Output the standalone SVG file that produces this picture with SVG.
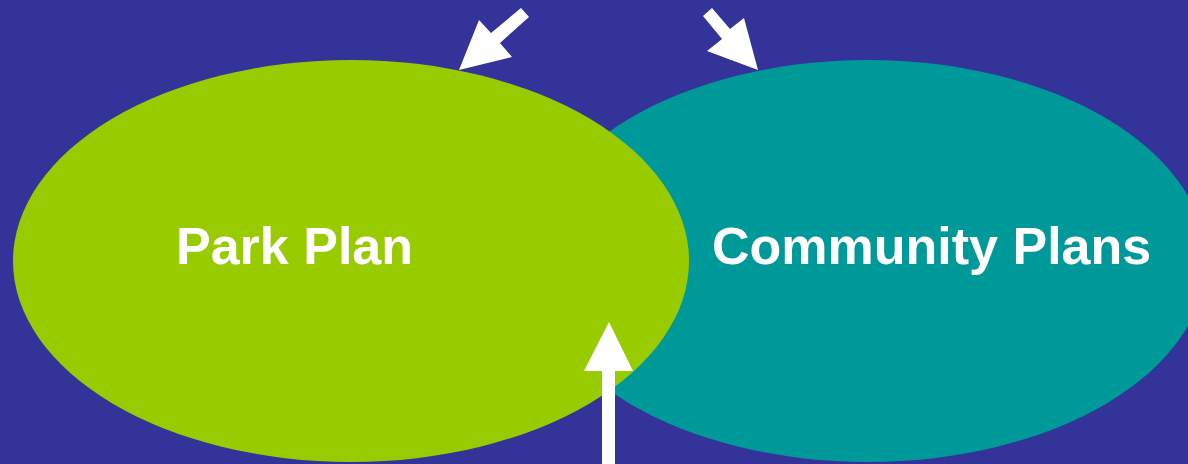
<svg xmlns="http://www.w3.org/2000/svg" width="1188" height="464" viewBox="0 0 1188 464">
<style>
.lbl{font-family:"Liberation Sans",Arial,sans-serif;font-weight:bold;font-size:52px;fill:#ffffff}
.arr{fill:#ffffff}
</style>
<rect width="1188" height="464" fill="#333399"/>
<g id="community-plans">
<ellipse cx="868" cy="261" rx="338" ry="201" fill="#009999"/>
<text class="lbl" x="712" y="264">Community Plans</text>
</g>
<g id="park-plan">
<ellipse cx="351" cy="261" rx="338" ry="201" fill="#99CC00"/>
<text class="lbl" x="176" y="264">Park Plan</text>
</g>
<g id="connectors">
<polygon class="arr" points="521,8 529,17 500,43 512,57 459,70 479,20 491,33"/>
<polygon class="arr" points="712,8 703,16 722,39 707,51 758,70 744,18 730,29"/>
<polygon class="arr" points="602,464 615,464 615,371 633,371 609,322 584,371 602,371"/>
</g>
</svg>
